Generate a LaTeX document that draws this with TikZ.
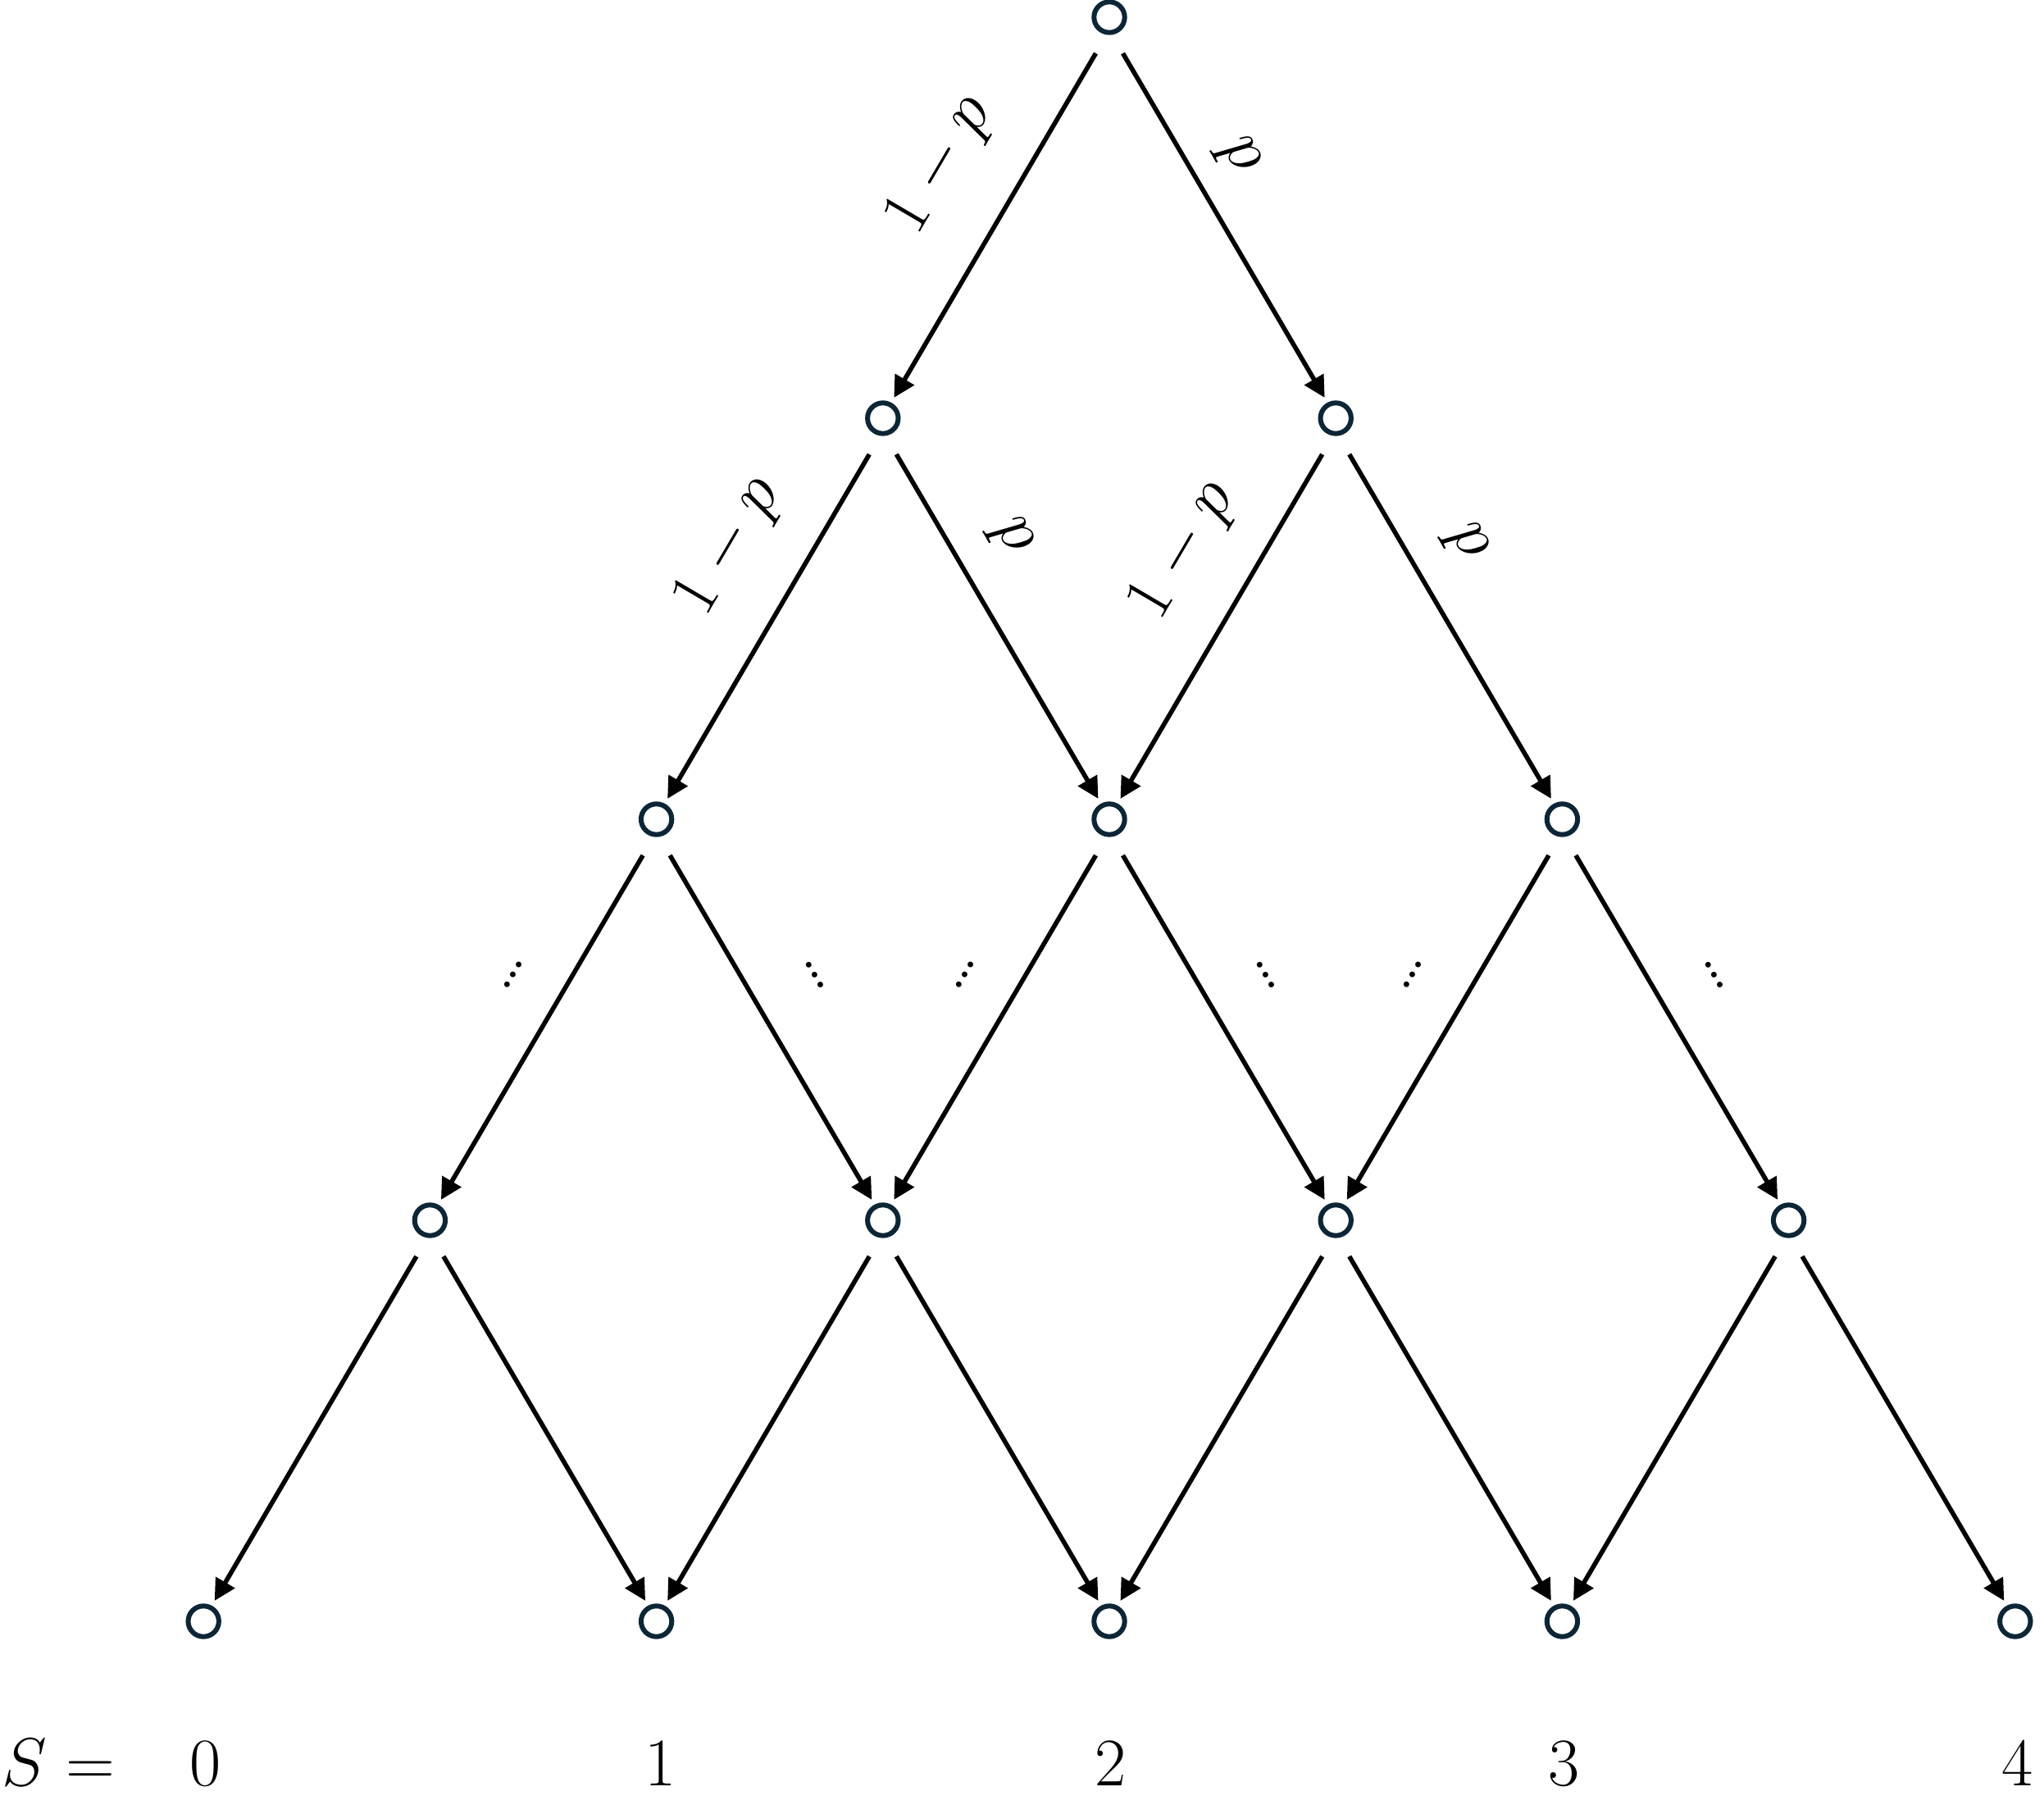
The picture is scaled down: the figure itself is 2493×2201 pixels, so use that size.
\documentclass[tikz,border=0pt]{standalone}
\usetikzlibrary{arrows.meta,calc}
\definecolor{nodecol}{RGB}{12,38,54}
\begin{document}
\begin{tikzpicture}[x=0.25pt,y=-0.25pt,
  font=\fontsize{21.3}{25}\selectfont,
  vert/.style={circle,draw=nodecol,line width=1.5pt,minimum size=9.35pt,inner sep=0pt},
  arr/.style={-{Triangle[length=6.5pt,width=6.5pt]},line width=1.4pt,black},
  lab/.style={inner sep=0pt,anchor=center},
  dotsl/.style={inner sep=0pt,anchor=center,font=\fontsize{21}{22}\selectfont},
  bot/.style={inner sep=0pt,anchor=base}]
\useasboundingbox (0,0) rectangle (2493,2201);
\fill[white] (0,0) rectangle (2493,2201);
% vertices
\foreach \i in {0,...,4}{
  \foreach \k in {0,...,\i}{
    \node[vert] (n\i\k) at ({1353+(2*\k-\i)*276.2},{21+489*\i}) {};
  }
}
% arrows
\foreach \i [evaluate=\i as \j using int(\i+1)] in {0,...,3}{
  \foreach \k [evaluate=\k as \kk using int(\k+1)] in {0,...,\i}{
    \draw[arr] ($(n\i\k)+(-16.5,44)$) -- ($(n\j\k)+(13.5,-25)$);
    \draw[arr] ($(n\i\k)+(16.5,44)$) -- ($(n\j\kk)+(-13.5,-25)$);
  }
}
% probability labels
\node[lab,rotate=59.6]  (la) at (1148,202) {$1-p$};
\node[lab,rotate=-59.6] (ra) at (1509,191) {$p$};
\node[lab,rotate=59.6]  (lb) at (890,667)  {$1-p$};
\node[lab,rotate=-59.6] (rb) at (1232,655) {$p$};
\node[lab,rotate=59.6]  (lc) at (1444,672) {$1-p$};
\node[lab,rotate=-59.6] (rc) at (1787,662) {$p$};
% ellipses
\node[dotsl,rotate=59.6]  (d1) at (626,1189)  {…};
\node[dotsl,rotate=-59.6] (d2) at (994,1189)  {…};
\node[dotsl,rotate=59.6]  (d3) at (1177,1189) {…};
\node[dotsl,rotate=-59.6] (d4) at (1544,1189) {…};
\node[dotsl,rotate=59.6]  (d5) at (1723,1189) {…};
\node[dotsl,rotate=-59.6] (d6) at (2091,1189) {…};
% bottom row labels
\node[bot] (s)  at (71,2177)   {$S =$};
\node[bot] (s0) at (251,2177)  {$0$};
\node[bot] (s1) at (806,2177)  {$1$};
\node[bot] (s2) at (1355,2177) {$2$};
\node[bot] (s3) at (1907,2177) {$3$};
\node[bot] (s4) at (2460,2177) {$4$};
\end{tikzpicture}
\end{document}
